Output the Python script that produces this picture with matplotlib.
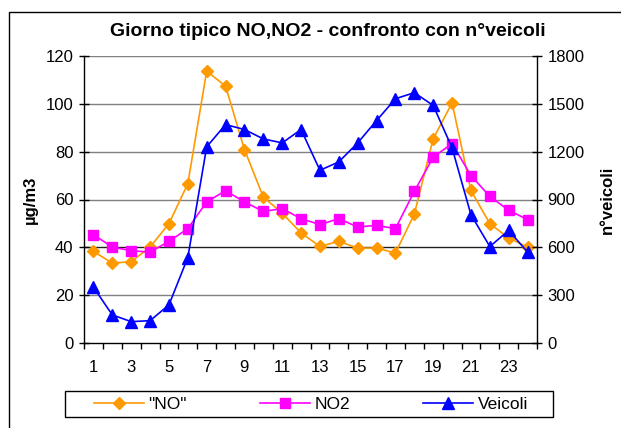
import matplotlib
matplotlib.use("Agg")
import matplotlib.pyplot as plt
from matplotlib.patches import Rectangle
from matplotlib.ticker import FixedLocator, NullFormatter

hours = list(range(1, 25))
no_vals = [38.3, 33.4, 34.0, 40.1, 49.9, 66.6, 113.7, 107.4, 80.9, 61.0, 54.3, 46.0,
           40.4, 42.5, 39.7, 39.7, 37.6, 53.9, 85.4, 100.4, 63.8, 49.9, 43.9, 40.1]
no2_vals = [45.3, 40.1, 38.6, 38.0, 42.5, 47.8, 59.0, 63.7, 59.0, 55.0, 56.2, 52.0,
            49.5, 52.0, 48.5, 49.2, 47.8, 63.4, 77.7, 83.4, 70.0, 61.3, 55.5, 51.6]
veicoli = [350, 176, 134, 140, 239, 536, 1230, 1370, 1339, 1280, 1255, 1339,
           1083, 1136, 1255, 1395, 1532, 1570, 1490, 1224, 805, 605, 706, 570]
x_labels = [str(h) for h in hours[::2]]

_ORANGE = "#FF9900"
_MAGENTA = "#FF00FF"
_BLUE = "#0000FF"

plt.rcParams.update({
    "font.family": ["Liberation Sans", "DejaVu Sans"],
    "font.size": 12,
})

W, H = 621, 428
fig = plt.figure(figsize=(W / 100, H / 100), dpi=100)

# outer chart border (only left and top edges are inside the picture)
fig.patches.append(Rectangle((9 / W, -0.1), 1.2, 1.1 - 12 / H,
                             transform=fig.transFigure, fill=False,
                             edgecolor="black", linewidth=1.0))

ax = fig.add_axes([84 / W, 1 - 343 / H, 453 / W, 287 / H])
ax2 = ax.twinx()

ax.set_xlim(0.5, 24.5)
ax.set_ylim(0, 120)
ax2.set_ylim(0, 1800)
ax.set_yticks(range(0, 121, 20))
ax2.set_yticks(range(0, 1801, 300))

for y in range(20, 121, 20):
    ax.axhline(y, color="#808080" if y != 40 else "#202020", linewidth=1.0, zorder=0)

l1, = ax.plot(hours, no_vals, color=_ORANGE, marker="D", markersize=6.5,
              linewidth=1.2, label='"NO"', zorder=3)
l2, = ax.plot(hours, no2_vals, color=_MAGENTA, marker="s", markersize=7,
              linewidth=1.2, label="NO2", zorder=3)
l3, = ax2.plot(hours, veicoli, color=_BLUE, marker="^", markersize=8.5,
               linewidth=1.2, label="Veicoli", zorder=3)

# x axis: labels on odd hours, tick marks between categories
ax.xaxis.set_major_locator(FixedLocator(hours[::2]))
ax.set_xticklabels(x_labels)
ax.tick_params(axis="x", which="major", length=0, pad=12)
ax.xaxis.set_minor_locator(FixedLocator([h + 0.5 for h in range(0, 25)]))
ax.xaxis.set_minor_formatter(NullFormatter())
ax.tick_params(axis="x", which="minor", direction="out", length=4, width=1)

ax.tick_params(axis="y", direction="inout", length=7, width=1, pad=4)
ax2.tick_params(axis="y", direction="inout", length=7, width=1, pad=4)

for a in (ax, ax2):
    a.spines["top"].set_visible(False)
    for s in ("left", "right", "bottom"):
        a.spines[s].set_linewidth(1.0)
        a.spines[s].set_color("black")
ax.spines["right"].set_visible(False)
ax2.spines["left"].set_visible(False)
ax2.spines["bottom"].set_visible(False)

ax.set_ylabel("µg/m3", fontweight="bold", fontsize=12)
ax.yaxis.set_label_coords((38 - 84) / 453, 0.5)
ax2.set_ylabel("n°veicoli", fontweight="bold", fontsize=12, rotation=90)
ax2.yaxis.set_label_coords((600 - 84) / 453, 0.5)

fig.text(0.5 * (108 + 548) / W, 1 - 31 / H,
         "Giorno tipico NO,NO2 - confronto con n°veicoli",
         ha="center", va="center", fontsize=14, fontweight="bold")

# legend box drawn separately so entries can sit centred like the original
fig.patches.append(Rectangle((65 / W, 1 - 417 / H), 488 / W, 26 / H,
                             transform=fig.transFigure, fill=False,
                             edgecolor="black", linewidth=1.0))
leg = fig.legend(handles=[l1, l2, l3], loc="center", ncol=3,
                 bbox_to_anchor=(311 / W, 1 - 404 / H),
                 handlelength=2.9, handletextpad=0.25, columnspacing=4.2,
                 frameon=False, fontsize=12.5, borderpad=0)

fig.savefig("out.png", dpi=100)
